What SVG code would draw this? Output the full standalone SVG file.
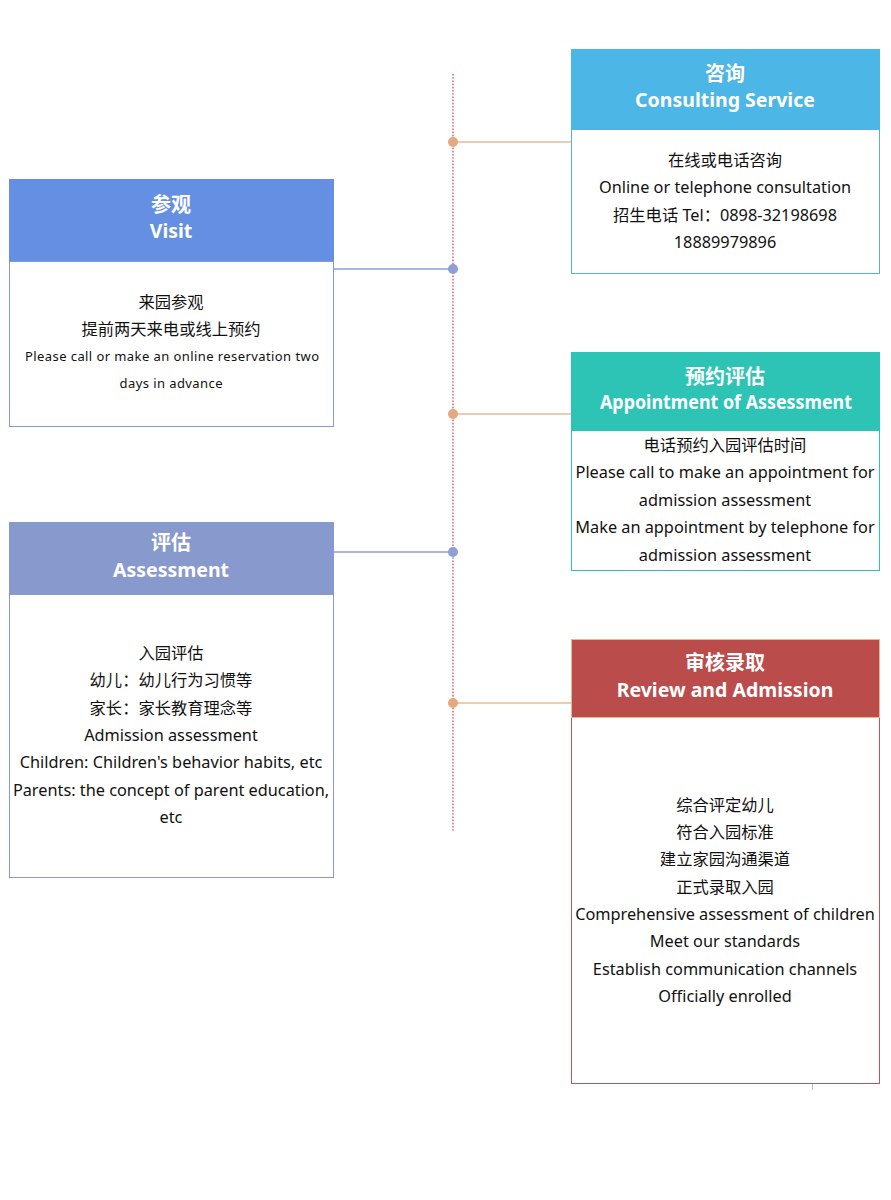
<svg xmlns="http://www.w3.org/2000/svg" width="891" height="1200" viewBox="0 0 891 1200">
<style>
.h{font-family:"Noto Sans","Noto Sans CJK SC",sans-serif;font-weight:bold;fill:#fff;text-anchor:middle;font-size:19.5px}
.c{font-size:20px}
.b{font-family:"Noto Sans","Noto Sans CJK SC",sans-serif;fill:#111;text-anchor:middle;font-size:16.3px}
.s{font-size:13px}
.or{stroke:#eab891;stroke-width:1.3}
.bl{stroke:#8c9fd6;stroke-width:1.3}
</style>
<rect width="891" height="1200" fill="#fff"/>
<g id="connectors">
<line x1="453" y1="74" x2="453" y2="832" stroke="#e8677e" stroke-width="1.6" stroke-dasharray="1.6 1.6"/>
<line class="or" x1="453" y1="142" x2="571" y2="142"/>
<circle cx="453" cy="142" r="5" fill="#e5a97d"/>
<line class="bl" x1="333" y1="269" x2="453" y2="269"/>
<circle cx="453" cy="269" r="5" fill="#8c9fd6"/>
<line class="or" x1="453" y1="414" x2="571" y2="414"/>
<circle cx="453" cy="414" r="5" fill="#e5a97d"/>
<line class="bl" x1="333" y1="552" x2="453" y2="552"/>
<circle cx="453" cy="552" r="5" fill="#8c9fd6"/>
<line class="or" x1="453" y1="703" x2="571" y2="703"/>
<circle cx="453" cy="703" r="5" fill="#e5a97d"/>
</g>
<g id="consulting">
<rect x="571.5" y="129.5" width="308" height="144" fill="#fff" stroke="#5aaee0"/>
<rect x="571" y="49" width="309" height="80" fill="#4cb6e6"/>
<text class="h c" x="725" y="81">咨询</text>
<text class="h" x="725" y="107">Consulting Service</text>
<text class="b" x="725" y="166">在线或电话咨询</text>
<text class="b" x="725" y="193">Online or telephone consultation</text>
<text class="b" x="725" y="221">招生电话 Tel：0898-32198698</text>
<text class="b" x="725" y="248">18889979896</text>
</g>
<g id="visit">
<rect x="9.5" y="261.5" width="324" height="165" fill="#fff" stroke="#7f9bdb"/>
<rect x="9" y="179" width="325" height="82" fill="#648fe3"/>
<text class="h c" x="171" y="212">参观</text>
<text class="h" x="171" y="238">Visit</text>
<text class="b" x="171" y="308">来园参观</text>
<text class="b" x="171" y="335">提前两天来电或线上预约</text>
<text class="b s" x="172" y="361" textLength="294" lengthAdjust="spacing">Please call or make an online reservation two</text>
<text class="b s" x="171" y="388" textLength="103" lengthAdjust="spacing">days in advance</text>
</g>
<g id="appointment">
<rect x="571.5" y="430.5" width="308" height="140" fill="#fff" stroke="#2ec4b5"/>
<rect x="571" y="352" width="309" height="78" fill="#2ec4b5"/>
<text class="h c" x="725" y="384">预约评估</text>
<text class="h" x="726" y="409" textLength="252" lengthAdjust="spacingAndGlyphs">Appointment of Assessment</text>
<text class="b" x="725" y="451">电话预约入园评估时间</text>
<text class="b" x="725" y="478">Please call to make an appointment for</text>
<text class="b" x="725" y="506">admission assessment</text>
<text class="b" x="725" y="533">Make an appointment by telephone for</text>
<text class="b" x="725" y="561">admission assessment</text>
</g>
<g id="assessment">
<rect x="9.5" y="594.5" width="324" height="283" fill="#fff" stroke="#8899cd"/>
<rect x="9" y="522" width="325" height="72" fill="#8899cd"/>
<text class="h c" x="171" y="550">评估</text>
<text class="h" x="171" y="577">Assessment</text>
<text class="b" x="171" y="659">入园评估</text>
<text class="b" x="171" y="686">幼儿：幼儿行为习惯等</text>
<text class="b" x="171" y="714">家长：家长教育理念等</text>
<text class="b" x="171" y="741">Admission assessment</text>
<text class="b" x="171" y="768">Children: Children's behavior habits, etc</text>
<text class="b" x="171" y="796">Parents: the concept of parent education,</text>
<text class="b" x="171" y="823">etc</text>
</g>
<g id="review">
<rect x="571.5" y="717.5" width="308" height="366" fill="#fff" stroke="#c0545a"/>
<rect x="571.5" y="639.5" width="308" height="78" fill="#ba4c4c" stroke="#e5b88e"/>
<text class="h c" x="725" y="670">审核录取</text>
<text class="h" x="725" y="697">Review and Admission</text>
<text class="b" x="725" y="811">综合评定幼儿</text>
<text class="b" x="725" y="838">符合入园标准</text>
<text class="b" x="725" y="865">建立家园沟通渠道</text>
<text class="b" x="725" y="893">正式录取入园</text>
<text class="b" x="725" y="920">Comprehensive assessment of children</text>
<text class="b" x="725" y="947">Meet our standards</text>
<text class="b" x="725" y="975">Establish communication channels</text>
<text class="b" x="725" y="1002">Officially enrolled</text>
</g>
<line x1="812.5" y1="1084" x2="812.5" y2="1090" stroke="#bbb" stroke-width="1"/>
</svg>
